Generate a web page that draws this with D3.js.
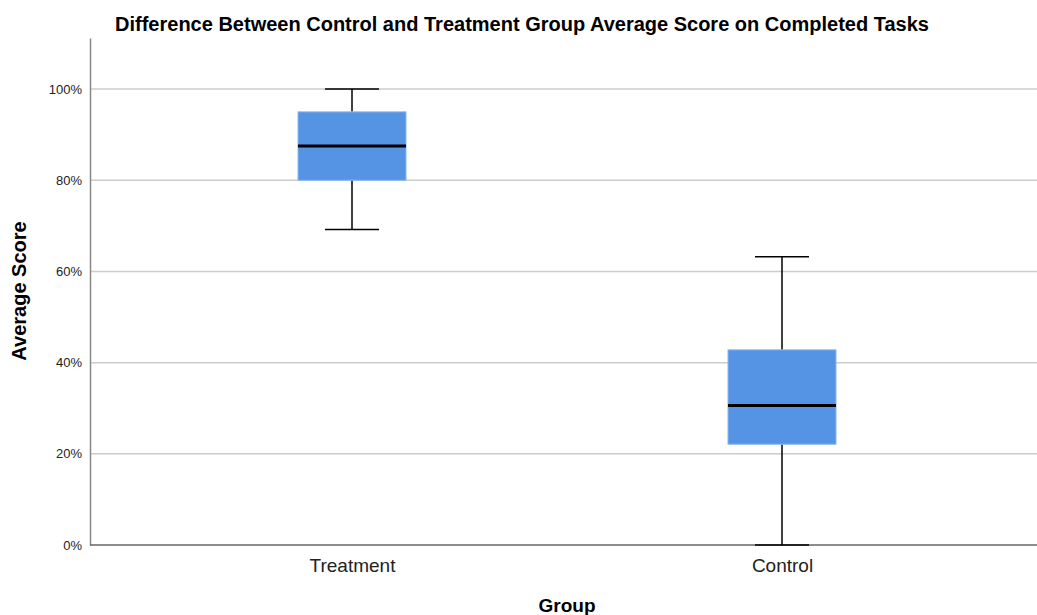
<!DOCTYPE html>
<html>
<head>
<meta charset="utf-8">
<script src="https://cdn.jsdelivr.net/npm/d3@7"></script>
<style>
  body { margin: 0; background: #fff; }
  svg text { font-family: "Liberation Sans", Arial, sans-serif; }
</style>
</head>
<body>
<div id="vis"></div>
<script>
var w = 1037;
var h = 615;

// data (percentages)
var groups = ["Treatment", "Control"];
var whiskerLow = [69.2, 0];
var q1 = [80, 22.1];
var median = [87.5, 30.6];
var q3 = [95, 42.8];
var whiskerHigh = [100, 63.2];
var yTicks = [0, 20, 40, 60, 80, 100];

var plotLeft = 90, plotRight = 1037, plotTop = 38, plotBottom = 545;

var svg = d3.select("#vis")
  .append("svg")
  .attr("width", w)
  .attr("height", h);

var y = d3.scaleLinear().domain([0, 111.2]).range([plotBottom, plotTop]);
var x = d3.scalePoint().domain(groups).range([352, 782]);

var boxW = 108;
var capW = 54;

// gridlines
svg.selectAll(".grid")
  .data(yTicks.filter(function(d) { return d > 0; }))
  .enter()
  .append("line")
  .attr("class", "grid")
  .attr("x1", plotLeft)
  .attr("x2", plotRight)
  .attr("y1", function(d) { return y(d); })
  .attr("y2", function(d) { return y(d); })
  .attr("stroke", "#cccccc")
  .attr("stroke-width", 1.5);

// y axis
var yAxis = d3.axisLeft(y)
  .tickValues(yTicks)
  .tickSize(0)
  .tickPadding(8)
  .tickFormat(function(d) { return d + "%"; });

var gy = svg.append("g")
  .attr("transform", "translate(" + plotLeft + ",0)")
  .call(yAxis);
gy.select(".domain").attr("stroke", "#888").attr("stroke-width", 1.5);
gy.selectAll("text")
  .attr("fill", "#222")
  .style("font-size", "13px");

// x axis
var xAxis = d3.axisBottom(x).tickSize(0).tickPadding(14);
var gx = svg.append("g")
  .attr("transform", "translate(0," + plotBottom + ")")
  .call(xAxis);
gx.select(".domain").remove();
gx.selectAll("text")
  .attr("fill", "#222")
  .style("font-size", "19px");

svg.append("line")
  .attr("x1", plotLeft)
  .attr("x2", plotRight)
  .attr("y1", plotBottom)
  .attr("y2", plotBottom)
  .attr("stroke", "#666")
  .attr("stroke-width", 1.5);

// boxes
var data = groups.map(function(g, i) {
  return { group: g, lo: whiskerLow[i], q1: q1[i], med: median[i], q3: q3[i], hi: whiskerHigh[i] };
});

var box = svg.selectAll(".box")
  .data(data)
  .enter()
  .append("g")
  .attr("class", "box");

// whiskers
box.append("line")
  .attr("x1", function(d) { return x(d.group); })
  .attr("x2", function(d) { return x(d.group); })
  .attr("y1", function(d) { return y(d.hi); })
  .attr("y2", function(d) { return y(d.q3); })
  .attr("stroke", "#000")
  .attr("stroke-width", 1.5);
box.append("line")
  .attr("x1", function(d) { return x(d.group); })
  .attr("x2", function(d) { return x(d.group); })
  .attr("y1", function(d) { return y(d.q1); })
  .attr("y2", function(d) { return y(d.lo); })
  .attr("stroke", "#000")
  .attr("stroke-width", 1.5);

// caps
box.append("line")
  .attr("x1", function(d) { return x(d.group) - capW / 2; })
  .attr("x2", function(d) { return x(d.group) + capW / 2; })
  .attr("y1", function(d) { return y(d.hi); })
  .attr("y2", function(d) { return y(d.hi); })
  .attr("stroke", "#000")
  .attr("stroke-width", 1.5);
box.append("line")
  .attr("x1", function(d) { return x(d.group) - capW / 2; })
  .attr("x2", function(d) { return x(d.group) + capW / 2; })
  .attr("y1", function(d) { return y(d.lo); })
  .attr("y2", function(d) { return y(d.lo); })
  .attr("stroke", "#000")
  .attr("stroke-width", 1.5);

// box
box.append("rect")
  .attr("x", function(d) { return x(d.group) - boxW / 2; })
  .attr("width", boxW)
  .attr("y", function(d) { return y(d.q3); })
  .attr("height", function(d) { return y(d.q1) - y(d.q3); })
  .attr("fill", "#5594e4")
  .attr("stroke", "#8ab6ee")
  .attr("stroke-width", 1);

// median
box.append("line")
  .attr("x1", function(d) { return x(d.group) - boxW / 2; })
  .attr("x2", function(d) { return x(d.group) + boxW / 2; })
  .attr("y1", function(d) { return y(d.med); })
  .attr("y2", function(d) { return y(d.med); })
  .attr("stroke", "#000")
  .attr("stroke-width", 3);

// titles
svg.append("text")
  .text("Difference Between Control and Treatment Group Average Score on Completed Tasks")
  .attr("x", 522)
  .attr("y", 31)
  .attr("text-anchor", "middle")
  .attr("fill", "#000")
  .style("font-size", "20px")
  .style("font-weight", "bold");

svg.append("text")
  .text("Group")
  .attr("x", 567)
  .attr("y", 612)
  .attr("text-anchor", "middle")
  .attr("fill", "#000")
  .style("font-size", "19px")
  .style("font-weight", "bold");

svg.append("text")
  .text("Average Score")
  .attr("transform", "translate(26,291) rotate(-90)")
  .attr("text-anchor", "middle")
  .attr("fill", "#000")
  .style("font-size", "20px")
  .style("font-weight", "bold");
</script>
</body>
</html>
